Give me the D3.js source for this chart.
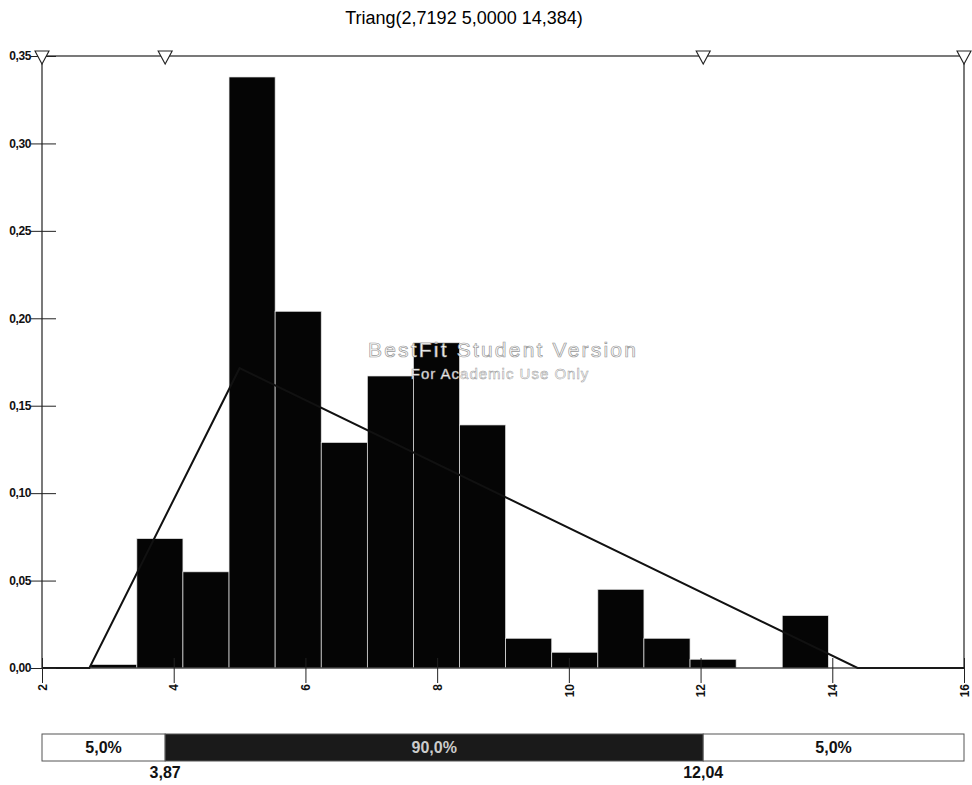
<!DOCTYPE html>
<html>
<head>
<meta charset="utf-8">
<script src="https://cdn.jsdelivr.net/npm/d3@7"></script>
<style>
  body { margin: 0; background: #fff; }
  svg text { font-family: "Liberation Sans", Arial, sans-serif; }
</style>
</head>
<body>
<div id="chart"></div>
<script>
// histogram bins (left edges + last right edge) and densities
const binEdges = [2.74, 3.44, 4.14, 4.84, 5.54, 6.24, 6.94, 7.64, 8.34, 9.04, 9.74, 10.44, 11.14, 11.84, 12.54, 13.24, 13.94];
const densities = [0.002, 0.074, 0.055, 0.338, 0.204, 0.129, 0.167, 0.186, 0.139, 0.017, 0.009, 0.045, 0.017, 0.005, 0, 0.030];

// fitted triangular distribution
const triMin = 2.7192, triMode = 5.0, triMax = 14.384;
const xTicks = [2, 4, 6, 8, 10, 12, 14, 16];
const yTicks = [0, 0.05, 0.10, 0.15, 0.20, 0.25, 0.30, 0.35];

// delimiters (5% / 95%)
const cutValues = [3.87, 12.04];
const cutLabels = ['3,87', '12,04'];
const pctLabels = ['5,0%', '90,0%', '5,0%'];

const title = 'Triang(2,7192 5,0000 14,384)';

const width = 972, height = 785;
const svg = d3.select('#chart').append('svg')
  .attr('width', width).attr('height', height);

const x = d3.scaleLinear().domain([2, 16]).range([42, 964]);
const y = d3.scaleLinear().domain([0, 0.35]).range([668, 56]);
const fmt = v => d3.format('.2f')(v).replace('.', ',');

// title
svg.append('text')
  .attr('x', 464).attr('y', 24)
  .attr('text-anchor', 'middle')
  .attr('font-size', 18)
  .text(title);

// bars
const bins = densities.map((d, i) => ({ x0: binEdges[i], x1: binEdges[i + 1], v: d }));
svg.append('g').selectAll('rect')
  .data(bins.filter(b => b.v > 0))
  .enter().append('rect')
  .attr('x', b => x(b.x0))
  .attr('y', b => y(b.v))
  .attr('width', b => x(b.x1) - x(b.x0))
  .attr('height', b => y(0) - y(b.v))
  .attr('fill', '#050505')
  .attr('stroke', '#e8e8e8')
  .attr('stroke-width', 0.7);

// watermark
svg.append('text')
  .attr('x', 503).attr('y', 357)
  .attr('text-anchor', 'middle')
  .attr('font-size', 21)
  .attr('letter-spacing', 2.2)
  .attr('fill', '#fff')
  .attr('stroke', '#999')
  .attr('stroke-width', 0.7)
  .text('BestFit Student Version');
svg.append('text')
  .attr('x', 500).attr('y', 379)
  .attr('text-anchor', 'middle')
  .attr('font-size', 15)
  .attr('letter-spacing', 1)
  .attr('fill', '#fff')
  .attr('stroke', '#999')
  .attr('stroke-width', 0.5)
  .text('For Academic Use Only');

// fitted line
const peak = 2 / (triMax - triMin);
const linePts = [[2, 0], [triMin, 0], [triMode, peak], [triMax, 0], [16, 0]];
svg.append('path')
  .datum(linePts)
  .attr('fill', 'none')
  .attr('stroke', '#111')
  .attr('stroke-width', 2)
  .attr('d', d3.line().x(d => x(d[0])).y(d => y(d[1])));

// frame
svg.append('rect')
  .attr('x', x(2)).attr('y', y(0.35))
  .attr('width', x(16) - x(2)).attr('height', y(0) - y(0.35))
  .attr('fill', 'none')
  .attr('stroke', '#222')
  .attr('stroke-width', 1.2);

// y axis
const yAxis = svg.append('g')
  .attr('transform', `translate(${x(2)},0)`)
  .call(d3.axisLeft(y).tickValues(yTicks).tickFormat(fmt).tickSizeInner(11).tickSizeOuter(0).tickPadding(0));
yAxis.select('.domain').remove();
yAxis.selectAll('.tick line').attr('x2', 14).attr('x1', -11).attr('stroke', '#222');
yAxis.selectAll('text')
  .attr('font-size', 12)
  .attr('font-weight', 'bold')
  .attr('letter-spacing', -0.4)
  .attr('font-family', '"Liberation Sans", Arial, sans-serif')
  .attr('fill', '#111');

// x axis
const xAxis = svg.append('g')
  .attr('transform', `translate(0,${y(0)})`)
  .call(d3.axisBottom(x).tickValues(xTicks).tickFormat(d3.format('d')).tickSizeOuter(0));
xAxis.select('.domain').remove();
xAxis.selectAll('.tick line').attr('y1', -10).attr('y2', 15).attr('stroke', '#222');
xAxis.selectAll('text')
  .attr('font-size', 12)
  .attr('font-weight', 'bold')
  .attr('font-family', '"Liberation Sans", Arial, sans-serif')
  .attr('fill', '#111')
  .attr('transform', 'rotate(-90)')
  .attr('text-anchor', 'end')
  .attr('x', -16).attr('y', 0).attr('dy', '0.35em');

// delimiter markers on top
const markerVals = [2, cutValues[0], cutValues[1], 16];
svg.append('g').selectAll('path')
  .data(markerVals)
  .enter().append('path')
  .attr('transform', d => `translate(${x(d)},${y(0.35)})`)
  .attr('d', 'M-7,-5 L7,-5 L0,8 Z')
  .attr('fill', '#fff')
  .attr('stroke', '#222')
  .attr('stroke-width', 1.1);

// percentile bar
const barTop = 734, barH = 27;
const segs = [[2, cutValues[0]], [cutValues[0], cutValues[1]], [cutValues[1], 16]];
const pb = svg.append('g');
pb.selectAll('rect')
  .data(segs)
  .enter().append('rect')
  .attr('x', d => x(d[0]))
  .attr('y', barTop)
  .attr('width', d => x(d[1]) - x(d[0]))
  .attr('height', barH)
  .attr('fill', (d, i) => i === 1 ? '#1a1a1a' : '#fff')
  .attr('stroke', '#555')
  .attr('stroke-width', 1);
pb.selectAll('text.pct')
  .data(segs)
  .enter().append('text')
  .attr('class', 'pct')
  .attr('x', d => (x(d[0]) + x(d[1])) / 2)
  .attr('y', barTop + 19)
  .attr('text-anchor', 'middle')
  .attr('font-size', 16)
  .attr('font-weight', 'bold')
  .attr('fill', (d, i) => i === 1 ? '#ccc' : '#111')
  .text((d, i) => pctLabels[i]);
pb.selectAll('text.cut')
  .data(cutValues)
  .enter().append('text')
  .attr('class', 'cut')
  .attr('x', d => x(d))
  .attr('y', 778)
  .attr('text-anchor', 'middle')
  .attr('font-size', 16)
  .attr('font-weight', 'bold')
  .attr('fill', '#111')
  .text((d, i) => cutLabels[i]);
</script>
</body>
</html>
